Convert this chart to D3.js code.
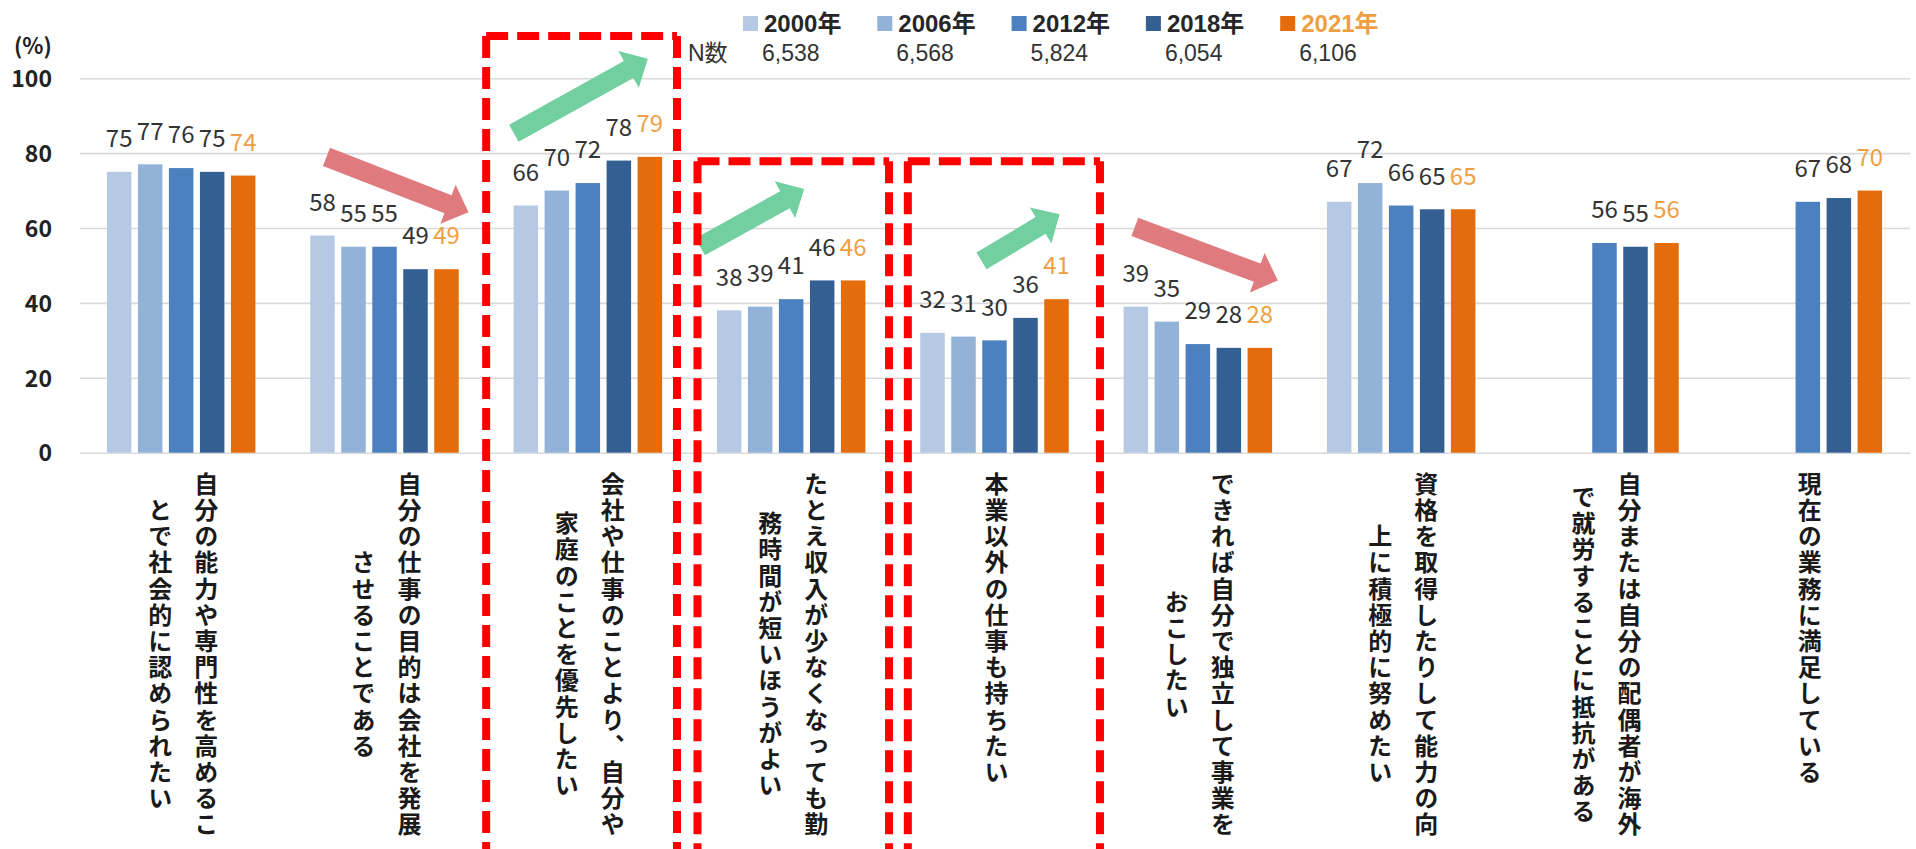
<!DOCTYPE html>
<html>
<head>
<meta charset="utf-8">
<script src="https://cdn.jsdelivr.net/npm/d3@7"></script>
<style>
  body { margin: 0; background: #ffffff; }
  svg { display: block; }
</style>
</head>
<body>
<svg id="chart" width="1916" height="849"></svg>
<script>
// ---- data ----
const categories = [
  "自分の能力や専門性を高めることで社会的に認められたい",
  "自分の仕事の目的は会社を発展させることである",
  "会社や仕事のことより、自分や家庭のことを優先したい",
  "たとえ収入が少なくなっても勤務時間が短いほうがよい",
  "本業以外の仕事も持ちたい",
  "できれば自分で独立して事業をおこしたい",
  "資格を取得したりして能力の向上に積極的に努めたい",
  "自分または自分の配偶者が海外で就労することに抵抗がある",
  "現在の業務に満足している"
];
// label columns (vertical writing, first column on the right)
const categoryLines = [
  ["自分の能力や専門性を高めるこ", "とで社会的に認められたい"],
  ["自分の仕事の目的は会社を発展", "させることである"],
  ["会社や仕事のことより、自分や", "家庭のことを優先したい"],
  ["たとえ収入が少なくなっても勤", "務時間が短いほうがよい"],
  ["本業以外の仕事も持ちたい"],
  ["できれば自分で独立して事業を", "おこしたい"],
  ["資格を取得したりして能力の向", "上に積極的に努めたい"],
  ["自分または自分の配偶者が海外", "で就労することに抵抗がある"],
  ["現在の業務に満足している"]
];
const years = ["2000年", "2006年", "2012年", "2018年", "2021年"];
const sampleSizes = ["6,538", "6,568", "5,824", "6,054", "6,106"];
const values2000 = [75, 58, 66, 38, 32, 39, 67, null, null];
const values2006 = [77, 55, 70, 39, 31, 35, 72, null, null];
const values2012 = [76, 55, 72, 41, 30, 29, 66, 56, 67];
const values2018 = [75, 49, 78, 46, 36, 28, 65, 55, 68];
const values2021 = [74, 49, 79, 46, 41, 28, 65, 56, 70];
const yTicks = [0, 20, 40, 60, 80, 100];

// highlighted items (dashed frames) and trend arrows
const frames = [
  { cat: 2, top: 111.3, dl: 0,  dr: -12.5 },
  { cat: 3, top: 77.8,  dl: 8,  dr: -3.8 },
  { cat: 4, top: 77.8,  dl: 15, dr: 3.8 }
];
const arrows = [
  { cat: 1, trend: "down", from: [-58, 79.0], to: [84, 64.2] },
  { cat: 2, trend: "up",   from: [-74, 85.3], to: [60, 105.2] },
  { cat: 3, trend: "up",   from: [-91, 55.0], to: [13, 70.4] },
  { cat: 4, trend: "up",   from: [-13, 51.2], to: [65, 63.7] },
  { cat: 5, trend: "down", from: [-63, 60.3], to: [80, 46.0] }
];

// ---- styles ----
const seriesColors = ["#B5C9E4", "#93B2D8", "#4D80BF", "#335F93", "#E46C0A"];
const labelColors = ["#333333", "#333333", "#333333", "#333333", "#EE9F42"];
const arrowColors = { up: "#71CFA0", down: "#DF7A7E" };
const jpFont = "'Noto Sans CJK JP', 'Noto Sans', sans-serif";
const legendFont = "'Liberation Sans', 'Noto Sans CJK JP', sans-serif";

const series = [values2000, values2006, values2012, values2018, values2021];
const rows = categories.map((c, i) => ({
  cat: c,
  idx: i,
  vals: years.map((yr, s) => ({ year: yr, s, v: series[s][i] }))
}));

const svg = d3.select("#chart");

const x0 = d3.scaleBand().domain(categories).range([79.5, 1909.5]).padding(0);
const bw = x0.bandwidth();
const x1 = d3.scaleBand().domain(years)
  .range([bw / 2 - 77.5, bw / 2 + 77.5])
  .paddingInner(0.21).paddingOuter(0.105);
const y = d3.scaleLinear().domain([0, 100]).range([452.7, 78.2]);

// ---- gridlines + y axis ----
const yAxis = d3.axisLeft(y).tickValues(yTicks)
  .tickSize(-(1910 - 80)).tickPadding(28).tickFormat(d3.format("d"));
const gy = svg.append("g").attr("transform", "translate(80,0)").call(yAxis);
gy.select(".domain").remove();
gy.selectAll(".tick line").attr("stroke", "#D9D9D9").attr("stroke-width", 1.6);
gy.selectAll(".tick text")
  .attr("font-family", jpFont).attr("font-size", 23).attr("font-weight", 700)
  .attr("fill", "#222222").attr("dy", "0.36em");

svg.append("text").attr("x", 14).attr("y", 54)
  .attr("font-family", jpFont).attr("font-size", 22).attr("font-weight", 700)
  .attr("fill", "#222222").text("(%)");

// ---- bars ----
const groups = svg.append("g").selectAll("g").data(rows).join("g")
  .attr("transform", d => `translate(${x0(d.cat)},0)`);

groups.selectAll("rect").data(d => d.vals.filter(v => v.v != null)).join("rect")
  .attr("x", d => x1(d.year))
  .attr("width", x1.bandwidth())
  .attr("y", d => y(d.v))
  .attr("height", d => y(0) - y(d.v))
  .attr("fill", d => seriesColors[d.s]);

groups.selectAll("text.val").data(d => d.vals.filter(v => v.v != null)).join("text")
  .attr("class", "val")
  .attr("x", d => x1(d.year) + x1.bandwidth() / 2)
  .attr("y", d => y(d.v) - 24.7)
  .attr("text-anchor", "middle")
  .attr("font-family", jpFont).attr("font-size", 24)
  .attr("fill", d => labelColors[d.s])
  .text(d => d.v);

// ---- category labels (vertical) ----
const pitch = 26.2;
const labelTop = y(0) + 19;
rows.forEach(r => {
  const lines = categoryLines[r.idx];
  const n = lines.length;
  const maxLen = d3.max(lines, l => l.length);
  const cx = x0(r.cat) + bw / 2 + 2;
  lines.forEach((line, i) => {
    svg.append("text")
      .attr("x", cx + ((n - 1) / 2 - i) * 46)
      .attr("y", labelTop + maxLen * pitch / 2)
      .attr("text-anchor", "middle")
      .style("writing-mode", "vertical-rl")
      .attr("font-family", jpFont).attr("font-size", 24).attr("font-weight", 700)
      .attr("letter-spacing", pitch - 24)
      .attr("fill", "#1a1a1a")
      .text(line);
  });
});

// ---- trend arrows ----
function arrowPoints(a) {
  const c = x0(categories[a.cat]) + bw / 2;
  const tx = c + a.from[0], ty = y(a.from[1]);
  const hx = c + a.to[0], hy = y(a.to[1]);
  const L = Math.hypot(hx - tx, hy - ty);
  const ux = (hx - tx) / L, uy = (hy - ty) / L;
  const nx = -uy, ny = ux;
  const sw = 19.5 / 2, hw = 42 / 2, hl = 22;
  const bx = hx - ux * hl, by = hy - uy * hl;
  return [
    [tx + nx * sw, ty + ny * sw], [bx + nx * sw, by + ny * sw], [bx + nx * hw, by + ny * hw],
    [hx, hy],
    [bx - nx * hw, by - ny * hw], [bx - nx * sw, by - ny * sw], [tx - nx * sw, ty - ny * sw]
  ].map(p => p.join(",")).join(" ");
}
svg.append("g").selectAll("polygon").data(arrows).join("polygon")
  .attr("points", arrowPoints)
  .attr("fill", d => arrowColors[d.trend]);

// ---- dashed frames ----
const fg = svg.append("g").attr("stroke", "#FF0000").attr("stroke-width", 8)
  .attr("stroke-dasharray", "22 9").attr("fill", "none");
frames.forEach(f => {
  const l = x0(categories[f.cat]) + f.dl;
  const rr = x0(categories[f.cat]) + bw + f.dr;
  const t = y(f.top);
  fg.append("line").attr("x1", l).attr("y1", t).attr("x2", rr).attr("y2", t);
  fg.append("line").attr("x1", l).attr("y1", t).attr("x2", l).attr("y2", 860);
  fg.append("line").attr("x1", rr).attr("y1", t).attr("x2", rr).attr("y2", 860);
});

// ---- legend + sample sizes ----
const legendX = i => 743 + i * 134.3;
const lg = svg.append("g");
years.forEach((yr, i) => {
  lg.append("rect").attr("x", legendX(i)).attr("y", 16).attr("width", 15).attr("height", 15)
    .attr("fill", seriesColors[i]);
  lg.append("text").attr("x", legendX(i) + 21).attr("y", 32)
    .attr("font-family", legendFont).attr("font-size", 24).attr("font-weight", 700)
    .attr("fill", i === 4 ? "#EE9F42" : "#262626").text(yr);
  lg.append("text").attr("x", legendX(i) + 19).attr("y", 61)
    .attr("font-family", legendFont).attr("font-size", 23)
    .attr("fill", "#333333").text(sampleSizes[i]);
});
lg.append("text").attr("x", 688).attr("y", 61)
  .attr("font-family", legendFont).attr("font-size", 23)
  .attr("fill", "#333333").text("N数");
</script>
</body>
</html>
